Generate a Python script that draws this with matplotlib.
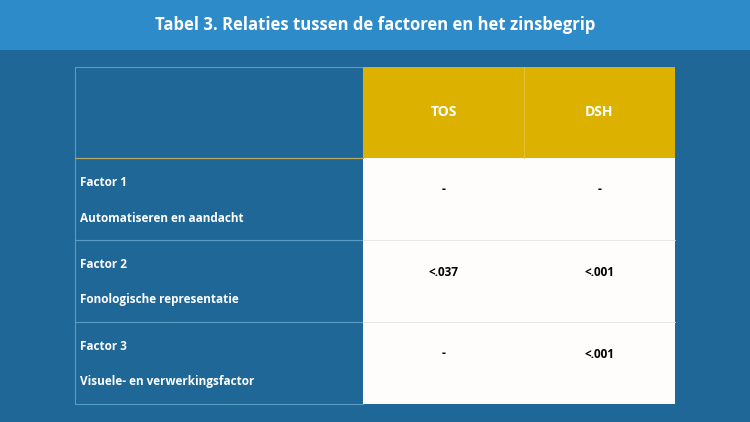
import matplotlib
matplotlib.use("Agg")
import matplotlib.pyplot as plt
from matplotlib.patches import Rectangle

title = "Tabel 3. Relaties tussen de factoren en het zinsbegrip"
columns = ["TOS", "DSH"]
factors = ["Factor 1", "Factor 2", "Factor 3"]
descriptions = ["Automatiseren en aandacht", "Fonologische representatie", "Visuele- en verwerkingsfactor"]
tos_values = ["-", "<.037", "-"]
dsh_values = ["-", "<.001", "<.001"]

BG = "#1F6796"
BAND = "#2E8BC9"
GOLD = "#DDB100"
WHITE = "#FEFDFB"
GRID = "#5B9CC6"
FONT = ["Open Sans", "DejaVu Sans"]

fig = plt.figure(figsize=(7.5, 4.22), dpi=100)
fig.patch.set_facecolor(BG)
ax = fig.add_axes([0, 0, 1, 1])
ax.set_xlim(0, 750); ax.set_ylim(422, 0); ax.axis("off")

ax.add_patch(Rectangle((0, 0), 750, 50, color=BAND, lw=0))
ax.text(375, 25, title, ha="center", va="center", color="white", fontsize=12,
        fontweight="bold", family=FONT)

x0, x1, x2, x3 = 75, 363, 524, 675
yh0, yh1 = 67, 158
rh = 82
# header
ax.add_patch(Rectangle((x0, yh0), x1 - x0, yh1 - yh0, fill=False, ec=GRID, lw=0.8))
ax.add_patch(Rectangle((x1, yh0), x3 - x1, yh1 - yh0, color=GOLD, lw=0))
ax.plot([x2, x2], [yh0, yh1], color="#E6C440", lw=0.6)
ax.plot([x0, x1], [yh1, yh1], color="#B8A860", lw=0.8)
for cx, name in zip([(x1 + x2) / 2, (x2 + x3) / 2], columns):
    ax.text(cx, (yh0 + yh1) / 2, name, ha="center", va="center", color="white",
            fontsize=10, fontweight="bold", family=FONT)

for i, (f, d, t, s) in enumerate(zip(factors, descriptions, tos_values, dsh_values)):
    y = yh1 + i * rh
    ax.add_patch(Rectangle((x0, y), x1 - x0, rh, fill=False, ec=GRID, lw=0.8))
    ax.add_patch(Rectangle((x1, y), x3 - x1, rh, color=WHITE, lw=0))
    if i > 0:
        ax.plot([x1, x3], [y, y], color="#E4E4E4", lw=0.6)
    ax.text(x0 + 5, y + 24, f, ha="left", va="center", color="white", fontsize=8.5,
            fontweight="bold", family=FONT)
    ax.text(x0 + 5, y + 60, d, ha="left", va="center", color="white", fontsize=8.5,
            fontweight="bold", family=FONT)
    ax.text((x1 + x2) / 2, y + 32, t, ha="center", va="center", color="black",
            fontsize=8.5, fontweight="bold", family=FONT)
    ax.text((x2 + x3) / 2, y + 32, s, ha="center", va="center", color="black",
            fontsize=8.5, fontweight="bold", family=FONT)

fig.savefig("out.png", dpi=100, facecolor=BG)
